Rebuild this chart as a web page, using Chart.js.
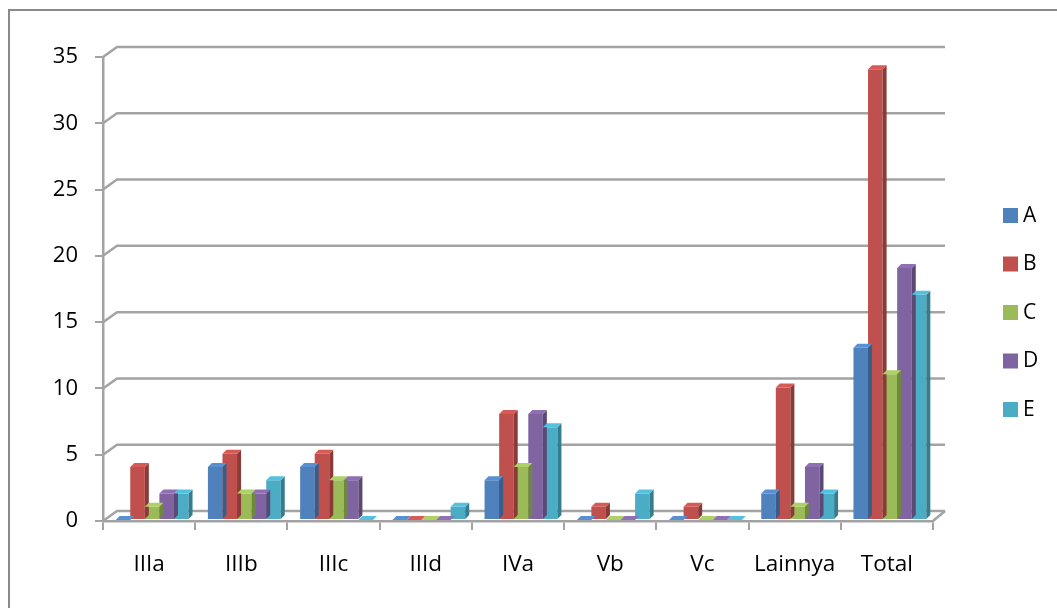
<!DOCTYPE html>
<html>
<head>
<meta charset="utf-8">
<script src="https://cdn.jsdelivr.net/npm/chart.js@4.4.1/dist/chart.umd.min.js"></script>
<style>
  html, body { margin: 0; padding: 0; background: #fff; }
  canvas { display: block; }
</style>
</head>
<body>
<canvas id="c" width="1057" height="608"></canvas>
<script>
// Categories and counts per group
const categories = ['IIIa', 'IIIb', 'IIIc', 'IIId', 'IVa', 'Vb', 'Vc', 'Lainnya', 'Total'];
const seriesA = [0, 4, 4, 0, 3, 0, 0, 2, 13];
const seriesB = [4, 5, 5, 0, 8, 1, 1, 10, 34];
const seriesC = [1, 2, 3, 0, 4, 0, 0, 1, 11];
const seriesD = [2, 2, 3, 0, 8, 0, 0, 4, 19];
const seriesE = [2, 3, 0, 1, 7, 2, 0, 2, 17];
const seriesNames = ['A', 'B', 'C', 'D', 'E'];
const seriesColors = ['#4F81BD', '#C0504D', '#9BBB59', '#8064A2', '#4BACC6'];
const yTicks = [0, 5, 10, 15, 20, 25, 30, 35];

const FONT = '"Open Sans", Lato, sans-serif';
const GRID = '#a3a3a3';
const WALL_DX = 14, WALL_DY = -10;   // depth of the back wall
const BAR_DX = 4, BAR_DY = -4;       // depth of each bar
const BAR_SHIFT = 3;                 // bars sit a little behind the front plane

function shade(hex, f) {
  const n = parseInt(hex.slice(1), 16);
  const r = Math.min(255, Math.round(((n >> 16) & 255) * f));
  const g = Math.min(255, Math.round(((n >> 8) & 255) * f));
  const b = Math.min(255, Math.round((n & 255) * f));
  return `rgb(${r},${g},${b})`;
}

// Frame, 3D walls, gridlines, bar depth faces and legend
const wallsPlugin = {
  id: 'walls',
  beforeDraw(chart) {
    const ctx = chart.ctx;
    ctx.save();
    ctx.fillStyle = '#fff';
    ctx.fillRect(0, 0, chart.width, chart.height);
    ctx.strokeStyle = '#8a8a8a';
    ctx.lineWidth = 2;
    ctx.beginPath();
    ctx.moveTo(9, chart.height + 5);
    ctx.lineTo(9, 10);
    ctx.lineTo(chart.width + 5, 10);
    ctx.stroke();
    ctx.restore();
  },
  beforeDatasetsDraw(chart) {
    const ctx = chart.ctx;
    const y = chart.scales.y;
    const { left, right, bottom } = chart.chartArea;
    ctx.save();
    ctx.strokeStyle = GRID;
    ctx.lineWidth = 2.5;
    ctx.lineJoin = 'round';
    yTicks.forEach(v => {
      const py = y.getPixelForValue(v);
      ctx.beginPath();
      ctx.moveTo(left, py);
      ctx.lineTo(left + WALL_DX, py + WALL_DY);
      ctx.lineTo(right + WALL_DX - 2, py + WALL_DY);
      ctx.stroke();
    });
    // floor edge on the right
    ctx.beginPath();
    ctx.moveTo(right, bottom);
    ctx.lineTo(right + WALL_DX - 2, bottom + WALL_DY);
    ctx.stroke();
    ctx.restore();
    // push the bars slightly into depth
    ctx.save();
    ctx.translate(BAR_SHIFT, -1);
  },
  afterDatasetsDraw(chart) {
    const ctx = chart.ctx;
    chart.data.datasets.forEach((ds, di) => {
      const meta = chart.getDatasetMeta(di);
      const col = seriesColors[di];
      meta.data.forEach(bar => {
        const x0 = bar.x - bar.width / 2, x1 = bar.x + bar.width / 2;
        const top = bar.y, base = bar.base;
        // side face
        ctx.fillStyle = shade(col, 0.72);
        ctx.beginPath();
        ctx.moveTo(x1, top);
        ctx.lineTo(x1 + BAR_DX, top + BAR_DY);
        ctx.lineTo(x1 + BAR_DX, base + BAR_DY);
        ctx.lineTo(x1, base);
        ctx.closePath();
        ctx.fill();
        // top face
        ctx.fillStyle = shade(col, 1.12);
        ctx.beginPath();
        ctx.moveTo(x0, top);
        ctx.lineTo(x0 + BAR_DX, top + BAR_DY);
        ctx.lineTo(x1 + BAR_DX, top + BAR_DY);
        ctx.lineTo(x1, top);
        ctx.closePath();
        ctx.fill();
      });
    });
    ctx.restore();
  },
  afterDraw(chart) {
    const ctx = chart.ctx;
    ctx.save();
    ctx.font = `21px ${FONT}`;
    ctx.textBaseline = 'middle';
    seriesNames.forEach((name, i) => {
      const cy = 215 + i * 48.5;
      ctx.fillStyle = seriesColors[i];
      ctx.fillRect(1003, cy - 7, 15, 15);
      ctx.fillStyle = '#000';
      ctx.fillText(name, 1023, cy + 1);
    });
    ctx.restore();
  }
};

const datasets = [seriesA, seriesB, seriesC, seriesD, seriesE].map((vals, i) => ({
  label: seriesNames[i],
  data: vals,
  backgroundColor: seriesColors[i],
  borderWidth: 0,
  categoryPercentage: 0.79,
  barPercentage: 1.0
}));

new Chart(document.getElementById('c'), {
  type: 'bar',
  data: { labels: categories, datasets },
  options: {
    responsive: false,
    animation: false,
    devicePixelRatio: 1,
    layout: { padding: { top: 57, right: 124, left: 0, bottom: 0 } },
    plugins: { legend: { display: false }, tooltip: { enabled: false } },
    scales: {
      y: {
        min: 0, max: 35,
        afterFit(s) { s.width = 103; },
        afterBuildTicks(s) { s.ticks = yTicks.map(v => ({ value: v })); },
        ticks: { color: '#000', padding: 17, font: { family: FONT, size: 22 } },
        grid: { drawOnChartArea: false, tickLength: 8, color: GRID, lineWidth: 2 },
        border: { color: GRID, width: 2.5 }
      },
      x: {
        afterFit(s) { s.height = 87; },
        ticks: { color: '#000', padding: 21, font: { family: FONT, size: 22.5 }, maxRotation: 0 },
        grid: { drawOnChartArea: false, tickLength: 9, color: GRID, lineWidth: 2, offset: true },
        border: { color: GRID, width: 2.5 }
      }
    }
  },
  plugins: [wallsPlugin]
});
</script>
</body>
</html>
